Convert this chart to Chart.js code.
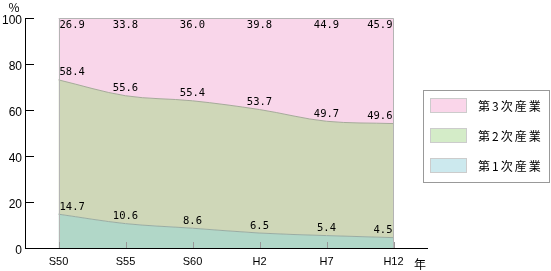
<!DOCTYPE html>
<html>
<head>
<meta charset="utf-8">
<script src="https://cdn.jsdelivr.net/npm/chart.js@4/dist/chart.umd.min.js"></script>
<style>
body { margin: 0; background: #fff; }
#wrap { width: 551px; height: 271px; position: relative; }
</style>
</head>
<body>
<div id="wrap"><canvas id="area-chart-sangyo"></canvas></div>
<script>
const years = ["S50", "S55", "S60", "H2", "H7", "H12"];
const primary = [14.7, 10.6, 8.6, 6.5, 5.4, 4.5];
const secondary = [58.4, 55.6, 55.4, 53.7, 49.7, 49.6];
const tertiary = [26.9, 33.8, 36.0, 39.8, 44.9, 45.9];
const sectorNames = ["第1次産業", "第2次産業", "第3次産業"];
const yTicks = [0, 20, 40, 60, 80, 100];

const areaColors = ["#b1d7c8", "#cfd7b8", "#f9d6ea"];
const legendColors = ["#cce9ee", "#d4ecc8", "#fad6ea"];

// extra drawing: outline, tick marks, value labels, axis units, legend box
const extras = {
    id: 'extras',
    afterDatasetsDraw(chart) {
        const ctx = chart.ctx;
        const xs = chart.scales.x, ys = chart.scales.y;
        const area = chart.chartArea;
        const last = years.length - 1;
        const x0 = Math.round(xs.getPixelForValue(0)) + 0.5;
        const x1 = Math.round(xs.getPixelForValue(last)) - 0.5;
        const top = Math.round(ys.getPixelForValue(100)) + 0.5;
        const bottom = ys.getPixelForValue(0);
        ctx.save();

        ctx.lineWidth = 1;
        ctx.strokeStyle = '#b4b4b4';
        ctx.beginPath();
        ctx.moveTo(x0, bottom);
        ctx.lineTo(x0, top);
        ctx.lineTo(x1, top);
        ctx.lineTo(x1, bottom);
        ctx.stroke();

        ctx.strokeStyle = '#999';
        ctx.beginPath();
        years.forEach((_, i) => {
            const px = Math.round(xs.getPixelForValue(i)) + 0.5;
            ctx.moveTo(px, bottom - 6);
            ctx.lineTo(px, bottom);
        });
        ctx.stroke();

        ctx.strokeStyle = '#000';
        ctx.beginPath();
        yTicks.forEach(v => {
            const py = Math.round(ys.getPixelForValue(v)) + 0.5;
            ctx.moveTo(area.left, py);
            ctx.lineTo(area.left + 9, py);
        });
        ctx.stroke();

        // value labels
        ctx.font = '10.5px "DejaVu Sans Mono"';
        ctx.fillStyle = '#000';
        chart.data.datasets.forEach((ds, di) => {
            const meta = chart.getDatasetMeta(di);
            meta.data.forEach((pt, i) => {
                let tx = pt.x;
                if (i === 0) { ctx.textAlign = 'left'; tx += 1; }
                else if (i === last) { ctx.textAlign = 'right'; tx -= 1; }
                else ctx.textAlign = 'center';
                let ty;
                if (di === 2) { ctx.textBaseline = 'top'; ty = top + 2; }
                else { ctx.textBaseline = 'bottom'; ty = pt.y - 2; }
                ctx.fillText(ds.data[i].toFixed(1), tx, ty);
            });
        });

        // units
        ctx.font = '12px "Noto Sans CJK JP"';
        ctx.textAlign = 'center';
        ctx.textBaseline = 'middle';
        ctx.fillText('%', 14, 7);
        ctx.fillText('年', 420, 264);

        // legend
        ctx.strokeStyle = '#999';
        ctx.strokeRect(423.5, 90.5, 126, 92);
        ctx.font = '12px "Noto Sans CJK JP"';
        ctx.letterSpacing = '2px';
        ctx.textAlign = 'left';
        for (let k = 0; k < 3; k++) {
            const s = 2 - k;
            const sy = 98 + k * 30;
            ctx.fillStyle = legendColors[s];
            ctx.fillRect(430, sy, 37, 15);
            ctx.strokeStyle = '#cccccc';
            ctx.strokeRect(430.5, sy + 0.5, 36, 14);
            ctx.fillStyle = '#000';
            ctx.fillText(sectorNames[s], 478, sy + 8);
        }
        ctx.restore();
    }
};

new Chart(document.getElementById("area-chart-sangyo"), {
    type: 'line',
    data: {
        labels: years,
        datasets: [{
            label: sectorNames[0],
            data: primary,
            backgroundColor: areaColors[0],
            borderColor: '#9aaca2',
            fill: 'origin'
        }, {
            label: sectorNames[1],
            data: secondary,
            backgroundColor: areaColors[1],
            borderColor: '#a6a99a',
            fill: '-1'
        }, {
            label: sectorNames[2],
            data: tertiary,
            backgroundColor: areaColors[2],
            borderColor: '#b4b4b4',
            fill: '-1'
        }]
    },
    options: {
        responsive: true,
        maintainAspectRatio: false,
        animation: false,
        layout: { padding: { top: 18, right: 124, left: 0, bottom: 0 } },
        elements: {
            point: { radius: 0 },
            line: { borderWidth: 1, cubicInterpolationMode: 'monotone' }
        },
        plugins: {
            legend: { display: false },
            tooltip: { enabled: false }
        },
        scales: {
            x: {
                offset: true,
                grid: { display: false, drawTicks: false },
                border: { color: '#000', width: 1 },
                ticks: { color: '#000', padding: 7, font: { family: 'Liberation Sans', size: 11 } },
                afterFit(s) { s.height = 23; }
            },
            y: {
                stacked: true,
                min: 0,
                max: 100,
                grid: { display: false, drawTicks: false },
                border: { color: '#000', width: 1 },
                ticks: { color: '#000', padding: 3, labelOffset: 3, font: { family: 'Liberation Sans', size: 12 } },
                afterBuildTicks(s) { s.ticks = yTicks.map(v => ({ value: v })); },
                afterFit(s) { s.width = 25; }
            }
        }
    },
    plugins: [extras]
});
</script>
</body>
</html>
